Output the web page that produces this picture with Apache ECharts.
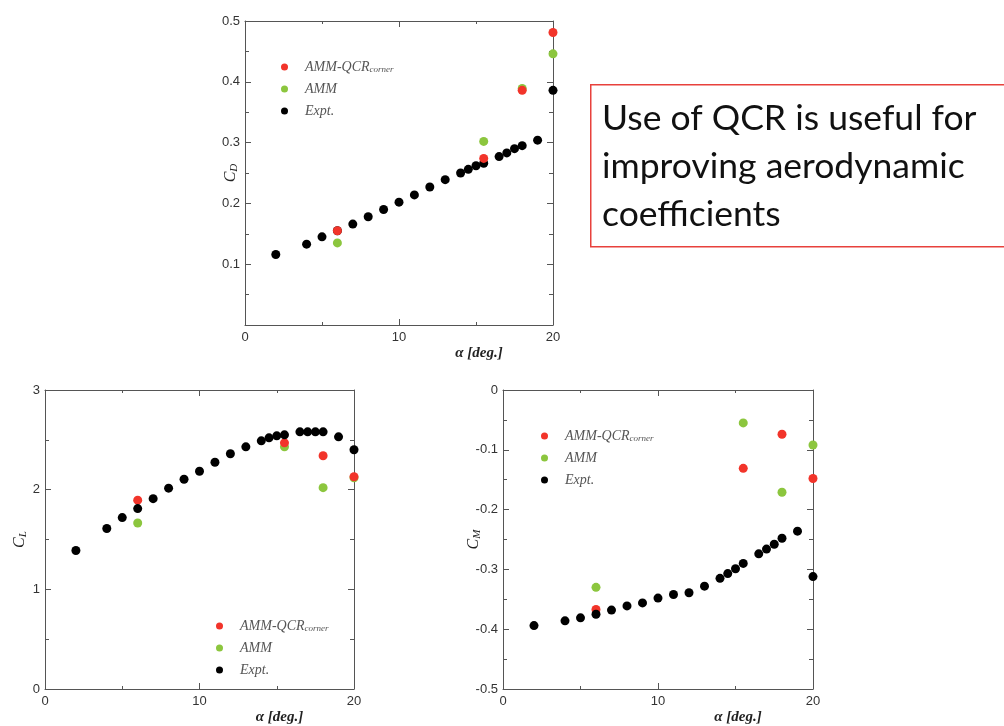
<!DOCTYPE html>
<html>
<head>
<meta charset="utf-8">
<script src="https://cdn.jsdelivr.net/npm/echarts@6/dist/echarts.min.js"></script>
<style>html,body{margin:0;padding:0;background:#fff;}#c{width:1004px;height:726px;}</style>
</head>
<body>
<div id="c"></div>
<script>
// ---- data ----
const alphaExpt = [2,4,5,6,7,8,9,10,11,12,13,14,14.5,15,15.5,16.5,17,17.5,18,19,20];
const cdExpt = [0.116,0.133,0.145,0.155,0.166,0.178,0.190,0.202,0.214,0.227,0.239,0.250,0.256,0.262,0.266,0.277,0.283,0.290,0.295,0.304,0.386];
const clExpt = [1.39,1.61,1.72,1.81,1.91,2.015,2.105,2.185,2.275,2.36,2.43,2.49,2.52,2.54,2.55,2.58,2.58,2.58,2.58,2.53,2.40];
const cmExpt = [-0.394,-0.386,-0.381,-0.375,-0.368,-0.361,-0.356,-0.348,-0.342,-0.339,-0.328,-0.315,-0.307,-0.299,-0.290,-0.274,-0.266,-0.258,-0.248,-0.236,-0.312];
const alphaModel = [6,15.5,18,20];
const cdQcr = [0.155,0.274,0.386,0.481];
const cdAmm = [0.135,0.302,0.389,0.446];
const clQcr = [1.895,2.47,2.34,2.13];
const clAmm = [1.665,2.43,2.02,2.12];
const cmQcr = [-0.367,-0.131,-0.074,-0.148];
const cmAmm = [-0.330,-0.055,-0.171,-0.092];
const seriesNames = ['AMM-QCR_corner','AMM','Expt.'];
const boxLines = ['Use of QCR is useful for','improving aerodynamic','coefficients'];

const RED = '#f2342a', GREEN = '#8cc63e', BLACK = '#000000';
const AX = '#555555';
const zip = (xs, ys) => xs.map((x, i) => [x, ys[i]]);

const grids = [
  {left:245, top:21, width:308, height:304},
  {left:45, top:390, width:309, height:308},
  {left:503, top:390, width:310, height:308}
];
const yCfg = [
  {min:0, max:0.5, interval:0.1, name:'{c|C}{s|D}', gap:5, fmt:v => v === 0 ? '' : v.toFixed(1)},
  {min:0, max:3, interval:1, name:'{c|C}{s|L}', gap:16, fmt:v => String(v)},
  {min:-0.5, max:0, interval:0.1, name:'{c|C}{s|M}', gap:20, fmt:v => v === 0 ? '0' : v.toFixed(1)}
];
const nameRich = {
  c:{fontFamily:'Liberation Serif', fontStyle:'italic', fontSize:16, color:'#222'},
  s:{fontFamily:'Liberation Serif', fontStyle:'italic', fontSize:11, color:'#222', padding:[7,0,0,0]}
};
const labelStyle = {fontFamily:'Liberation Sans', fontSize:13, color:'#333'};

const xAxis = [], yAxis = [];
grids.forEach((g, i) => {
  xAxis.push({
    gridIndex:i, type:'value', min:0, max:20, interval:10, position:'bottom',
    axisLine:{onZero:false, lineStyle:{color:AX, width:1}},
    axisTick:{inside:true, length:6, lineStyle:{color:AX}},
    minorTick:{show:true, splitNumber:2, length:3, lineStyle:{color:AX}},
    splitLine:{show:false}, minorSplitLine:{show:false},
    axisLabel:Object.assign({margin:6}, labelStyle),
    name:'α [deg.]', nameLocation:'middle', nameGap:21, nameMoveOverlap:false,
    nameTextStyle:{fontFamily:'Liberation Serif', fontStyle:'italic', fontWeight:'bold', fontSize:15, color:'#222', padding:[0,0,0,160]}
  });
  xAxis.push({
    gridIndex:i, type:'value', min:0, max:20, interval:10, position:'top',
    axisLine:{onZero:false, lineStyle:{color:AX, width:1}},
    axisTick:{inside:true, length:6, lineStyle:{color:AX}},
    minorTick:{show:true, splitNumber:2, length:3, lineStyle:{color:AX}},
    splitLine:{show:false}, axisLabel:{show:false}
  });
  const y = yCfg[i];
  yAxis.push({
    gridIndex:i, type:'value', min:y.min, max:y.max, interval:y.interval, position:'left',
    axisLine:{show:true, onZero:false, lineStyle:{color:AX, width:1}},
    axisTick:{show:true, inside:true, length:6, lineStyle:{color:AX}},
    minorTick:{show:true, splitNumber:2, length:4, lineStyle:{color:AX}},
    splitLine:{show:false},
    axisLabel:Object.assign({margin:5, formatter:y.fmt}, labelStyle),
    name:y.name, nameLocation:'middle', nameGap:y.gap, nameRotate:90, nameMoveOverlap:false,
    nameTextStyle:{rich:nameRich}
  });
  yAxis.push({
    gridIndex:i, type:'value', min:y.min, max:y.max, interval:y.interval, position:'right',
    axisLine:{show:true, onZero:false, lineStyle:{color:AX, width:1}},
    axisTick:{show:true, inside:true, length:6, lineStyle:{color:AX}},
    minorTick:{show:true, splitNumber:2, length:4, lineStyle:{color:AX}},
    splitLine:{show:false}, axisLabel:{show:false}
  });
});

function sc(name, gi, data, color, z) {
  return {
    name:name, type:'scatter', xAxisIndex:gi*2, yAxisIndex:gi*2, data:data,
    symbol:'circle', symbolSize:9, itemStyle:{color:color, opacity:1}, z:z,
    emphasis:{disabled:true}, silent:true
  };
}
const series = [
  // CD: red drawn on top
  sc(seriesNames[2], 0, zip(alphaExpt, cdExpt), BLACK, 2),
  sc(seriesNames[1], 0, zip(alphaModel, cdAmm), GREEN, 3),
  sc(seriesNames[0], 0, zip(alphaModel, cdQcr), RED, 4),
  // CL
  sc(seriesNames[1], 1, zip(alphaModel, clAmm), GREEN, 2),
  sc(seriesNames[0], 1, zip(alphaModel, clQcr), RED, 3),
  sc(seriesNames[2], 1, zip(alphaExpt, clExpt), BLACK, 4),
  // CM
  sc(seriesNames[1], 2, zip(alphaModel, cmAmm), GREEN, 2),
  sc(seriesNames[0], 2, zip(alphaModel, cmQcr), RED, 3),
  sc(seriesNames[2], 2, zip(alphaExpt, cmExpt), BLACK, 4)
];

const legRich = {
  m:{fontFamily:'Liberation Serif', fontStyle:'italic', fontSize:14, color:'#555', padding:[0,0,0,12]},
  s:{fontFamily:'Liberation Serif', fontStyle:'italic', fontSize:9, color:'#555', padding:[6,0,0,0]}
};
function legend(left, top) {
  return {
    left:left, top:top, orient:'vertical', icon:'circle', itemWidth:7, itemHeight:7, itemGap:6,
    data:seriesNames, selectedMode:false,
    formatter:n => n === 'AMM-QCR_corner' ? '{m|AMM-QCR}{s|corner}' : '{m|' + n + '}',
    textStyle:{rich:legRich, lineHeight:16}
  };
}

const graphic = [
  {type:'rect', left:590, top:84, shape:{x:0, y:0, width:430, height:162},
   style:{fill:'#fff', stroke:'#e8413c', lineWidth:1.5}, z:10}
];
boxLines.forEach((t, i) => {
  graphic.push({type:'text', left:602, top:101 + i * 48,
    style:{text:t, font:'35.5px Lato', fill:'#111'}, z:11});
});

const chart = echarts.init(document.getElementById('c'), null, {renderer:'canvas'});
chart.setOption({
  animation:false,
  backgroundColor:'#ffffff',
  grid:grids,
  xAxis:xAxis, yAxis:yAxis, series:series,
  legend:[legend(276, 54), legend(211, 613), legend(536, 423)],
  graphic:graphic
});
</script>
</body>
</html>
